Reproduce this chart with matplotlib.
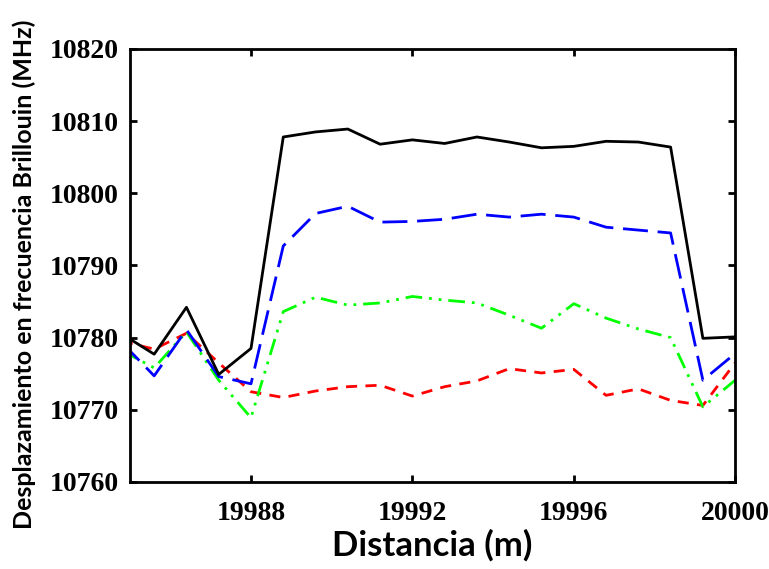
import numpy as np
import matplotlib
matplotlib.use("Agg")
import matplotlib.pyplot as plt

# distancia (m), paso de 0.8 m
distancia = np.round(19984.8 + 0.8 * np.arange(20), 1)

negro = [10780.5, 10777.7, 10784.2, 10774.9, 10778.5, 10807.8, 10808.5, 10808.9,
         10806.8, 10807.4, 10806.9, 10807.8, 10807.1, 10806.3, 10806.5, 10807.2,
         10807.1, 10806.4, 10779.9, 10780.1]
azul = [10779.3, 10774.7, 10781.1, 10774.6, 10773.6, 10792.7, 10797.2, 10798.2,
        10796.0, 10796.1, 10796.4, 10797.1, 10796.7, 10797.1, 10796.7, 10795.3,
        10794.9, 10794.5, 10774.1, 10777.8]
verde = [10778.2, 10775.8, 10780.8, 10774.1, 10768.9, 10783.6, 10785.6, 10784.5,
         10784.8, 10785.7, 10785.2, 10784.8, 10783.1, 10781.3, 10784.7, 10782.7,
         10781.2, 10780.0, 10770.4, 10774.1]
rojo = [10779.5, 10778.4, 10780.6, 10776.5, 10772.5, 10771.7, 10772.6, 10773.2,
        10773.4, 10771.9, 10773.2, 10774.0, 10775.7, 10775.1, 10775.6, 10772.0,
        10772.9, 10771.3, 10770.6, 10776.5]

xticks = [19988, 19992, 19996, 20000]
yticks = [10760, 10770, 10780, 10790, 10800, 10810, 10820]

fig = plt.figure(figsize=(7.69, 5.69), dpi=100)
ax = fig.add_axes([0.169, 0.153, 0.787, 0.761])

ax.plot(distancia, rojo, color="#ff0000", lw=2, dashes=(4, 3))
ax.plot(distancia, verde, color="#00ff00", lw=2, dashes=(6, 2.5, 1, 2.5, 1, 2.5))
ax.plot(distancia, azul, color="#0000ff", lw=2, dashes=(9, 3.5))
ax.plot(distancia, negro, color="black", lw=2)

ax.set_xlim(19985, 20000)
ax.set_ylim(10760, 10820)
ax.set_xticks(xticks)
ax.set_yticks(yticks)

for s in ax.spines.values():
    s.set_linewidth(2)
ax.tick_params(direction="in", length=5, width=2, top=True, right=True)
ax.tick_params(axis="x", pad=14)
ax.tick_params(axis="y", pad=8)
for lab in ax.get_xticklabels() + ax.get_yticklabels():
    lab.set_fontfamily("Liberation Serif")
    lab.set_fontweight("bold")
    lab.set_fontsize(20)

ax.set_xlabel("Distancia (m)", fontfamily="Lato", fontweight="bold", fontsize=25, labelpad=2)
ax.set_ylabel("Desplazamiento en frecuencia Brillouin (MHz)", fontfamily="Lato",
              fontweight="bold", fontsize=18, labelpad=2)
ax.yaxis.set_label_coords(-0.155, 0.48)

fig.savefig("out.png", dpi=100)
